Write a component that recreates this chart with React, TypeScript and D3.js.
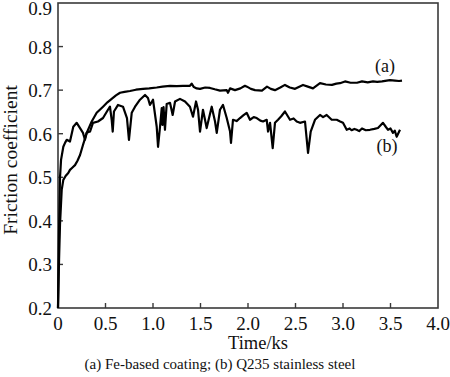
import React from "react";
import * as d3 from "d3";

// Curve (a): Fe-based coating — time (ks), friction coefficient
const timeA = [0, 0.011, 0.021, 0.039, 0.056, 0.08, 0.108, 0.126, 0.15, 0.179, 0.205, 0.232, 0.263, 0.302, 0.355, 0.407, 0.474, 0.52, 0.565, 0.61, 0.653, 0.7, 0.758, 0.82, 0.895, 0.96, 1.039, 1.1, 1.179, 1.25, 1.316, 1.389, 1.407, 1.43, 1.46, 1.495, 1.55, 1.6, 1.65, 1.705, 1.776, 1.789, 1.811, 1.863, 1.92, 1.968, 1.989, 2.03, 2.074, 2.147, 2.2, 2.24, 2.284, 2.34, 2.389, 2.44, 2.495, 2.54, 2.579, 2.63, 2.684, 2.758, 2.82, 2.884, 2.93, 2.968, 3.021, 3.08, 3.147, 3.2, 3.26, 3.316, 3.36, 3.411, 3.46, 3.495, 3.547, 3.59, 3.621];
const muA = [0.2, 0.31, 0.391, 0.471, 0.494, 0.503, 0.51, 0.517, 0.522, 0.528, 0.538, 0.551, 0.574, 0.602, 0.628, 0.648, 0.662, 0.672, 0.68, 0.688, 0.694, 0.696, 0.698, 0.701, 0.703, 0.704, 0.706, 0.708, 0.71, 0.709, 0.71, 0.71, 0.715, 0.707, 0.704, 0.703, 0.706, 0.705, 0.702, 0.699, 0.7, 0.694, 0.704, 0.7, 0.704, 0.71, 0.708, 0.703, 0.7, 0.699, 0.708, 0.703, 0.7, 0.706, 0.712, 0.706, 0.703, 0.708, 0.712, 0.708, 0.704, 0.716, 0.713, 0.712, 0.715, 0.716, 0.72, 0.717, 0.717, 0.72, 0.718, 0.72, 0.719, 0.72, 0.722, 0.723, 0.722, 0.721, 0.722];

// Curve (b): Q235 stainless steel
const timeB = [0, 0.005, 0.011, 0.021, 0.032, 0.056, 0.074, 0.092, 0.126, 0.161, 0.197, 0.232, 0.263, 0.284, 0.302, 0.337, 0.368, 0.421, 0.474, 0.526, 0.547, 0.565, 0.576, 0.589, 0.632, 0.684, 0.726, 0.747, 0.776, 0.811, 0.863, 0.916, 0.947, 0.968, 1.0, 1.039, 1.053, 1.074, 1.092, 1.1, 1.111, 1.126, 1.144, 1.179, 1.207, 1.232, 1.284, 1.337, 1.389, 1.421, 1.453, 1.474, 1.495, 1.526, 1.565, 1.618, 1.653, 1.671, 1.705, 1.737, 1.776, 1.811, 1.821, 1.842, 1.88, 1.916, 1.95, 1.986, 2.021, 2.06, 2.092, 2.13, 2.158, 2.197, 2.211, 2.232, 2.26, 2.284, 2.316, 2.35, 2.389, 2.442, 2.48, 2.513, 2.547, 2.6, 2.632, 2.66, 2.705, 2.758, 2.79, 2.828, 2.881, 2.934, 2.97, 3.0, 3.039, 3.07, 3.09, 3.12, 3.144, 3.17, 3.2, 3.24, 3.284, 3.33, 3.368, 3.421, 3.45, 3.474, 3.5, 3.526, 3.545, 3.565, 3.58, 3.6];
const muB = [0.2, 0.288, 0.379, 0.499, 0.54, 0.57, 0.579, 0.586, 0.582, 0.616, 0.625, 0.613, 0.602, 0.586, 0.602, 0.605, 0.625, 0.628, 0.636, 0.655, 0.662, 0.632, 0.605, 0.651, 0.666, 0.662, 0.636, 0.586, 0.648, 0.662, 0.678, 0.689, 0.682, 0.666, 0.678, 0.616, 0.57, 0.616, 0.659, 0.62, 0.661, 0.609, 0.668, 0.671, 0.643, 0.674, 0.68, 0.674, 0.662, 0.639, 0.674, 0.655, 0.605, 0.655, 0.613, 0.662, 0.628, 0.602, 0.655, 0.666, 0.636, 0.605, 0.579, 0.632, 0.629, 0.636, 0.642, 0.648, 0.632, 0.638, 0.636, 0.63, 0.628, 0.632, 0.605, 0.625, 0.567, 0.625, 0.632, 0.64, 0.651, 0.632, 0.635, 0.628, 0.625, 0.628, 0.556, 0.605, 0.632, 0.643, 0.638, 0.643, 0.632, 0.632, 0.628, 0.625, 0.609, 0.612, 0.608, 0.611, 0.609, 0.606, 0.612, 0.608, 0.609, 0.611, 0.613, 0.625, 0.616, 0.609, 0.612, 0.602, 0.607, 0.593, 0.6, 0.609];

const xTicks = [0, 0.5, 1.0, 1.5, 2.0, 2.5, 3.0, 3.5, 4.0];
const yTicks = [0.2, 0.3, 0.4, 0.5, 0.6, 0.7, 0.8, 0.9];

export default function App() {
  const W = 450, H = 377;
  const left = 58, right = 438, top = 3, bottom = 308;
  const x = d3.scaleLinear().domain([0, 4]).range([left, right]);
  const y = d3.scaleLinear().domain([0.2, 0.9]).range([bottom, top]);
  const line = d3.line<[number, number]>().x(d => x(d[0])).y(d => y(d[1]));
  const dA = line(timeA.map((t, i) => [t, muA[i]] as [number, number])) || "";
  const dB = line(timeB.map((t, i) => [t, muB[i]] as [number, number])) || "";
  const ts: React.CSSProperties = { fontFamily: "'Liberation Serif', 'Times New Roman', serif" };
  const axisColor = "#3a3a3a";
  return (
    <svg width={W} height={H} style={{ position: "absolute", left: 0, top: 0, background: "#fff" }}>
      <rect x={0} y={0} width={W} height={H} fill="#fff" />
      <rect x={left} y={top} width={right - left} height={bottom - top} fill="none" stroke={axisColor} strokeWidth={1.6} />
      {xTicks.map(t => (
        <g key={"x" + t}>
          {t > 0 && t < 4 && <line x1={x(t)} x2={x(t)} y1={bottom} y2={bottom - 5} stroke={axisColor} strokeWidth={1.4} />}
          <text x={x(t)} y={330} fontSize={19} textAnchor="middle" fill="#111" style={ts}>{t === 0 ? "0" : t.toFixed(1)}</text>
        </g>
      ))}
      {yTicks.map(t => (
        <g key={"y" + t}>
          {t > 0.2 && t < 0.9 && <line x1={left} x2={left + 5} y1={y(t)} y2={y(t)} stroke={axisColor} strokeWidth={1.4} />}
          <text x={52} y={Math.max(y(t) + 7, 14.5)} fontSize={19} textAnchor="end" fill="#111" style={ts}>{t.toFixed(1)}</text>
        </g>
      ))}
      <path d={dA} fill="none" stroke="#000" strokeWidth={2.2} strokeLinejoin="round" />
      <path d={dB} fill="none" stroke="#000" strokeWidth={2.2} strokeLinejoin="round" />
      <text x={385} y={72} fontSize={18} textAnchor="middle" fill="#111" style={ts}>(a)</text>
      <text x={387} y={152} fontSize={18} textAnchor="middle" fill="#111" style={ts}>(b)</text>
      <text x={258} y={349} fontSize={18.5} textAnchor="middle" fill="#111" style={ts}>Time/ks</text>
      <text transform="translate(17,160) rotate(-90)" fontSize={19.5} textAnchor="middle" fill="#111" style={ts}>Friction coefficient</text>
      <text x={220} y={369} fontSize={15} textAnchor="middle" fill="#111" style={ts}>(a) Fe-based coating; (b) Q235 stainless steel</text>
    </svg>
  );
}
